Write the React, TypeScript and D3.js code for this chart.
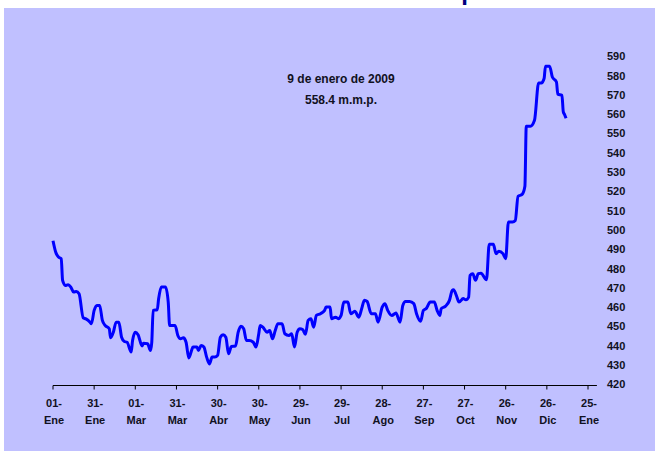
/**
 * Base monetaria: saldo diario en m.m.p., 01-Ene-2008 a 09-Ene-2009.
 * Eje de valores a la derecha, fechas cada 30 días abajo.
 */
import * as d3 from 'd3';
import { useEffect, useRef } from 'react';

// days since 01-Ene-2008
const DAY_OFFSETS = [
  0, 2, 4, 6, 7, 9, 11, 13, 15, 17, 19, 22, 24, 27, 28, 30, 32, 34, 36, 38,
  41, 42, 44, 46, 48, 50, 52, 54, 57, 58, 60, 62, 65, 66, 69, 71, 72, 73, 76, 77,
  79, 82, 84, 85, 87, 89, 91, 93, 95, 97, 99, 101, 102, 105, 106, 108, 110, 112, 114, 116,
  118, 120, 122, 124, 126, 128, 130, 133, 135, 137, 139, 141, 143, 146, 148, 150, 151, 153, 156, 158,
  160, 162, 164, 167, 169, 172, 174, 176, 178, 180, 182, 184, 186, 188, 190, 192, 195, 198, 199, 202,
  203, 206, 208, 210, 212, 215, 217, 220, 223, 225, 227, 229, 232, 235, 237, 240, 242, 244, 247, 250,
  253, 255, 257, 260, 263, 265, 268, 270, 272, 275, 278, 280, 282, 283, 286, 289, 291, 292, 294, 296,
  299, 301, 303, 304, 306, 308, 310, 312, 316, 318, 321, 323, 325, 328, 330, 332, 335, 337, 339, 342,
  344, 345, 348, 351, 354, 356, 358, 359, 362, 364, 367, 368, 371, 372, 373, 374,
];

// m.m.p.
const BASE_VALUES = [
  495, 489, 486.5, 485.7, 474.4, 471.8, 472.2, 471, 468.4, 468.7, 467.5, 455.1, 454.5, 452.8, 452, 458.9, 461.5, 461.5, 453.7, 451.1,
  449.4, 444.7, 447.6, 452.8, 452.8, 445, 442.8, 442.4, 437.3, 443.3, 447.6, 446.3, 440.4, 441.9, 441.6, 438.1, 442.4, 458.9, 459.2, 464.9,
  471, 471, 463.2, 451.1, 451.1, 451.1, 445.9, 444.2, 444.7, 442.4, 434.2, 438.1, 439.9, 439.9, 438.1, 440.7, 439.9, 434.7, 431.2, 434.7,
  434.7, 435.6, 445, 446.3, 445, 436.4, 440.2, 440.4, 447.6, 450.7, 449.4, 443.3, 443.3, 442.4, 439.9, 446.8, 451.1, 450.2, 447.6, 448.5,
  444.2, 448.5, 452, 452, 446.8, 445.9, 446.8, 439.9, 447.6, 449.4, 449, 446.5, 453.7, 454.6, 450.2, 456.3, 457.2, 458.9, 460.6, 460.6,
  454.6, 455.4, 454.6, 456.3, 463.2, 463.2, 457.2, 458.4, 455.4, 459.8, 464.1, 463.5, 457.2, 457.2, 452.8, 460.6, 462.4, 458.9, 456.3, 457.5,
  452.8, 461.5, 463.5, 463.5, 462.4, 457.2, 453.3, 458.9, 459.8, 463.2, 463.2, 458.9, 456.3, 459.8, 461, 464.1, 469.2, 469.6, 466.7, 463.2,
  465, 464.4, 465.8, 477, 477.9, 474.5, 477.9, 478.2, 474.8, 493.1, 493.1, 488.3, 489.6, 488.3, 485.7, 504.7, 504.7, 505.5, 518, 519,
  523.2, 554.3, 554.3, 557.4, 576.7, 576.7, 579, 585.4, 585.4, 579.8, 577.2, 570.9, 570.3, 561.7, 560.2, 558.4,
];

const TICK_DAYS = [0, 30, 60, 90, 120, 150, 180, 210, 240, 270, 300, 330, 360, 390];
const TICK_DAY_LABELS = ['01-', '31-', '01-', '31-', '30-', '30-', '29-', '29-', '28-', '27-', '27-', '26-', '26-', '25-'];
const TICK_MONTH_LABELS = ['Ene', 'Ene', 'Mar', 'Mar', 'Abr', 'May', 'Jun', 'Jul', 'Ago', 'Sep', 'Oct', 'Nov', 'Dic', 'Ene'];
const Y_TICKS = [420, 430, 440, 450, 460, 470, 480, 490, 500, 510, 520, 530, 540, 550, 560, 570, 580, 590];

const NOTE_LINES = ['9 de enero de 2009', '558.4 m.m.p.'];
const TITLE = 'Base Monetaria en m.m.p';

const WIDTH = 655;
const HEIGHT = 451;
const FONT = '"Liberation Sans", Arial, sans-serif';
const TEXT_COLOR = '#111122';

export default function App() {
  const svgRef = useRef<SVGSVGElement>(null);

  useEffect(() => {
    document.body.style.margin = '0';
    if (!svgRef.current) return;

    const svg = d3.select(svgRef.current);
    svg.selectAll('*').remove();
    svg.attr('width', WIDTH).attr('height', HEIGHT);

    // fondo
    svg.append('rect').attr('width', WIDTH).attr('height', HEIGHT).attr('fill', '#fff');
    svg.append('rect')
      .attr('x', 4).attr('y', 8)
      .attr('width', WIDTH - 4).attr('height', HEIGHT - 8)
      .attr('fill', '#c0c0ff');

    // título: en el original sólo asoma el trazo de la "p"
    svg.append('text')
      .attr('x', 476).attr('y', -0.5)
      .attr('text-anchor', 'end')
      .attr('font-family', FONT).attr('font-weight', 'bold').attr('font-size', 24)
      .attr('fill', '#000080')
      .text(TITLE);

    const x = d3.scaleLinear().domain([0, 390]).range([53, 588]);
    const y = d3.scaleLinear().domain([420, 590]).range([385.5, 57.3]);

    // eje X
    svg.append('line')
      .attr('x1', x(0)).attr('x2', x(396.5))
      .attr('y1', y(420)).attr('y2', y(420))
      .attr('stroke', '#000').attr('stroke-width', 1);

    TICK_DAYS.forEach((d, i) => {
      const tx = x(d);
      svg.append('line')
        .attr('x1', tx).attr('x2', tx)
        .attr('y1', y(420)).attr('y2', y(420) + 4)
        .attr('stroke', '#000');
      const t = svg.append('text')
        .attr('x', tx + 1).attr('y', 407)
        .attr('text-anchor', 'middle')
        .attr('font-family', FONT).attr('font-weight', 'bold').attr('font-size', 11)
        .attr('fill', TEXT_COLOR);
      t.append('tspan').attr('x', tx + 1).text(TICK_DAY_LABELS[i]);
      t.append('tspan').attr('x', tx + 1).attr('dy', 17).text(TICK_MONTH_LABELS[i]);
    });

    // eje Y (solo etiquetas, a la derecha)
    Y_TICKS.forEach(v => {
      svg.append('text')
        .attr('x', 607).attr('y', y(v))
        .attr('dominant-baseline', 'middle')
        .attr('font-family', FONT).attr('font-weight', 'bold').attr('font-size', 11)
        .attr('fill', TEXT_COLOR)
        .text(v);
    });

    // serie
    const points: [number, number][] = DAY_OFFSETS.map((d, i) => [d, BASE_VALUES[i]]);
    const line = d3.line<[number, number]>()
      .x(d => x(d[0]))
      .y(d => y(d[1]))
      .curve(d3.curveMonotoneX);

    svg.append('path')
      .datum(points)
      .attr('d', line)
      .attr('fill', 'none')
      .attr('stroke', '#0000ff')
      .attr('stroke-width', 3)
      .attr('stroke-linejoin', 'round');

    // nota
    NOTE_LINES.forEach((s, i) => {
      svg.append('text')
        .attr('x', 341).attr('y', 83 + i * 21)
        .attr('text-anchor', 'middle')
        .attr('font-family', FONT).attr('font-weight', 'bold').attr('font-size', 12)
        .attr('fill', TEXT_COLOR)
        .text(s);
    });
  }, []);

  return <svg ref={svgRef} style={{ display: 'block' }} />;
}
